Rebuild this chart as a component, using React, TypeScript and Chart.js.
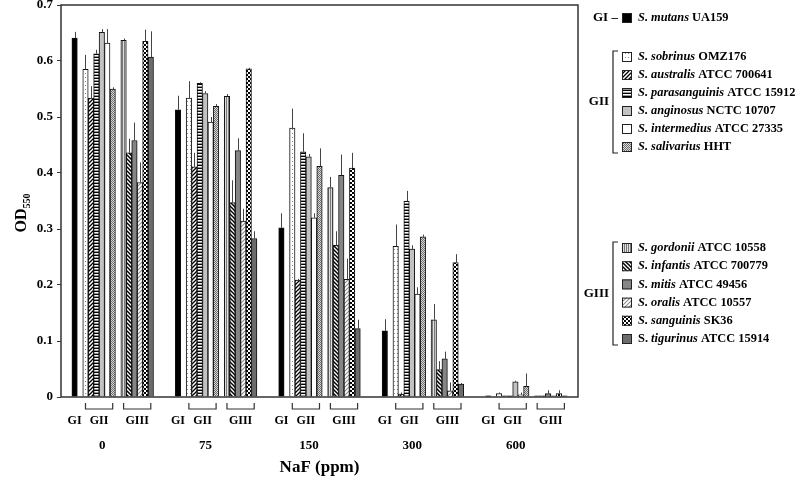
import React, { useEffect, useRef } from "react";
import { Chart, registerables } from "chart.js";

Chart.register(...registerables);

// ---------- data ----------
const concentrations = ["0", "75", "150", "300", "600"];
const groupNames = ["GI", "GII", "GIII"];
const yTickValues = [0, 0.1, 0.2, 0.3, 0.4, 0.5, 0.6, 0.7];

const speciesEpithets = [
  "mutans", "sobrinus", "australis", "parasanguinis", "anginosus", "intermedius", "salivarius",
  "gordonii", "infantis", "mitis", "oralis", "sanguinis", "tigurinus",
];
const speciesStrains = [
  "UA159", "OMZ176", "ATCC 700641", "ATCC 15912", "NCTC 10707", "ATCC 27335", "HHT",
  "ATCC 10558", "ATCC 700779", "ATCC 49456", "ATCC 10557", "SK36", "ATCC 15914",
];
const speciesGroup = [0, 1, 1, 1, 1, 1, 1, 2, 2, 2, 2, 2, 2];

// OD550 per NaF concentration (0, 75, 150, 300, 600 ppm)
const mutans = [0.641, 0.513, 0.302, 0.118, 0.002];
const sobrinus = [0.585, 0.534, 0.48, 0.269, 0.006];
const australis = [0.534, 0.411, 0.209, 0.005, 0.002];
const parasanguinis = [0.613, 0.56, 0.438, 0.35, 0.002];
const anginosus = [0.651, 0.542, 0.429, 0.264, 0.027];
const intermedius = [0.632, 0.491, 0.32, 0.184, 0.004];
const salivarius = [0.55, 0.519, 0.412, 0.286, 0.019];
const gordonii = [0.637, 0.537, 0.374, 0.138, 0.002];
const infantis = [0.436, 0.347, 0.271, 0.049, 0.002];
const mitis = [0.458, 0.44, 0.396, 0.068, 0.006];
const oralis = [0.383, 0.314, 0.21, 0.011, 0.002];
const sanguinis = [0.635, 0.586, 0.409, 0.24, 0.006];
const tigurinus = [0.607, 0.283, 0.122, 0.023, 0.002];

// standard deviations
const mutansErr = [0.011, 0.025, 0.026, 0.021, 0];
const sobrinusErr = [0.026, 0.03, 0.035, 0.039, 0.002];
const australisErr = [0.021, 0.025, 0.002, 0.003, 0];
const parasanguinisErr = [0.007, 0.002, 0.033, 0.018, 0];
const anginosusErr = [0.006, 0.004, 0.005, 0.007, 0.002];
const intermediusErr = [0.025, 0.009, 0.008, 0.012, 0.004];
const salivariusErr = [0.003, 0.004, 0.032, 0.004, 0.023];
const gordoniiErr = [0.003, 0.004, 0.019, 0.028, 0];
const infantisErr = [0.025, 0.04, 0.025, 0.015, 0];
const mitisErr = [0.032, 0.022, 0.037, 0.013, 0.006];
const oralisErr = [0.036, 0.022, 0.037, 0.015, 0];
const sanguinisErr = [0.021, 0.002, 0.027, 0.015, 0.006];
const tigurinusErr = [0.046, 0.013, 0.016, 0.002, 0];

const seriesValues = [mutans, sobrinus, australis, parasanguinis, anginosus, intermedius, salivarius,
  gordonii, infantis, mitis, oralis, sanguinis, tigurinus];
const seriesErrors = [mutansErr, sobrinusErr, australisErr, parasanguinisErr, anginosusErr, intermediusErr,
  salivariusErr, gordoniiErr, infantisErr, mitisErr, oralisErr, sanguinisErr, tigurinusErr];

// ---------- layout of slots ----------
const SLOTS_PER_GROUP = 19;
const slotOf = (si: number) => (si === 0 ? 2 : si <= 6 ? 3 + si : si + 4);
const TOTAL_SLOTS = SLOTS_PER_GROUP * concentrations.length;

const FONT = '"Liberation Serif", "Times New Roman", serif';
const LEGEND_SIZE = 12.4;

// ---------- patterns ----------
function tile(w: number, h: number, draw: (c: CanvasRenderingContext2D) => void): CanvasPattern {
  const cv = document.createElement("canvas");
  cv.width = w;
  cv.height = h;
  const c = cv.getContext("2d")!;
  draw(c);
  return c.createPattern(cv, "repeat")!;
}

function makeFills(): (string | CanvasPattern)[] {
  const diag = (color: string, lw: number, up: boolean) =>
    tile(4, 4, (c) => {
      c.fillStyle = "#fff";
      c.fillRect(0, 0, 4, 4);
      c.strokeStyle = color;
      c.lineWidth = lw;
      c.beginPath();
      if (up) {
        c.moveTo(-1, 5); c.lineTo(5, -1);
        c.moveTo(-1, 1); c.lineTo(1, -1);
        c.moveTo(3, 5); c.lineTo(5, 3);
      } else {
        c.moveTo(-1, -1); c.lineTo(5, 5);
        c.moveTo(3, -1); c.lineTo(5, 1);
        c.moveTo(-1, 3); c.lineTo(1, 5);
      }
      c.stroke();
    });
  return [
    "#000000",
    tile(3, 4, (c) => { c.fillStyle = "#fff"; c.fillRect(0, 0, 3, 4); c.fillStyle = "#8a8a8a"; c.fillRect(1, 1, 1, 1); }),
    diag("#000", 1.3, true),
    tile(2, 3, (c) => { c.fillStyle = "#000"; c.fillRect(0, 0, 2, 1); c.fillStyle = "#fff"; c.fillRect(0, 1, 2, 1); c.fillStyle = "#9a9a9a"; c.fillRect(0, 2, 2, 1); }),
    "#c2c2c2",
    "#ffffff",
    tile(2, 2, (c) => { c.fillStyle = "#d8d8d8"; c.fillRect(0, 0, 2, 2); c.fillStyle = "#6e6e6e"; c.fillRect(0, 0, 1, 1); c.fillRect(1, 1, 1, 1); }),
    tile(2, 2, (c) => { c.fillStyle = "#dedede"; c.fillRect(0, 0, 2, 2); c.fillStyle = "#7a7a7a"; c.fillRect(0, 0, 1, 2); }),
    diag("#000", 1.5, false),
    "#858585",
    diag("#8c8c8c", 1.1, true),
    tile(4, 4, (c) => { c.fillStyle = "#fff"; c.fillRect(0, 0, 4, 4); c.fillStyle = "#000"; c.fillRect(0, 0, 2, 2); c.fillRect(2, 2, 2, 2); }),
    "#6c6c6c",
  ];
}

// ---------- component ----------
export default function App() {
  const ref = useRef<HTMLCanvasElement | null>(null);

  useEffect(() => {
    if (!ref.current) return;
    const fills = makeFills();
    const labels = Array.from({ length: TOTAL_SLOTS }, () => "");

    const datasets = seriesValues.map((vals, si) => {
      const arr: (number | null)[] = new Array(TOTAL_SLOTS).fill(null);
      vals.forEach((v, g) => { arr[g * SLOTS_PER_GROUP + slotOf(si)] = v; });
      return {
        label: "S. " + speciesEpithets[si] + " " + speciesStrains[si],
        data: arr,
        backgroundColor: fills[si] as any,
        borderColor: "#111",
        borderWidth: 1,
        grouped: false,
        barPercentage: 1,
        categoryPercentage: 1,
      };
    });

    const decor = {
      id: "decor",
      beforeDraw(chart: any) {
        const c = chart.ctx;
        c.save();
        c.fillStyle = "#fff";
        c.fillRect(0, 0, chart.width, chart.height);
        c.restore();
      },
      afterDatasetsDraw(chart: any) {
        const c = chart.ctx;
        const xs = chart.scales.x;
        const ys = chart.scales.y;
        const area = chart.chartArea;
        c.save();
        // error bars
        c.strokeStyle = "#444";
        c.lineWidth = 1;
        seriesValues.forEach((vals, si) => {
          vals.forEach((v, g) => {
            const e = seriesErrors[si][g];
            if (!e) return;
            const x = Math.round(xs.getPixelForValue(g * SLOTS_PER_GROUP + slotOf(si))) + 0.5;
            c.beginPath();
            c.moveTo(x, ys.getPixelForValue(v));
            c.lineTo(x, ys.getPixelForValue(v + e));
            c.stroke();
          });
        });
        // frame
        c.strokeStyle = "#333";
        c.lineWidth = 1.5;
        c.strokeRect(area.left, area.top, area.right - area.left, area.bottom - area.top);
        c.restore();
      },
      afterDraw(chart: any) {
        const c = chart.ctx;
        const xs = chart.scales.x;
        const area = chart.chartArea;
        const px = (i: number) => xs.getPixelForValue(i);
        c.save();
        c.fillStyle = "#000";
        c.textBaseline = "middle";
        c.textAlign = "center";
        c.strokeStyle = "#333";
        c.lineWidth = 1.2;
        concentrations.forEach((conc, g) => {
          const base = g * SLOTS_PER_GROUP;
          const giX = px(base + slotOf(0));
          const giiA = px(base + slotOf(1));
          const giiB = px(base + slotOf(6));
          const giiiA = px(base + slotOf(7));
          const giiiB = px(base + slotOf(12));
          // brackets
          [[giiA, giiB], [giiiA, giiiB]].forEach(([a, b]) => {
            c.beginPath();
            c.moveTo(a, area.bottom + 6);
            c.lineTo(a, area.bottom + 12);
            c.lineTo(b, area.bottom + 12);
            c.lineTo(b, area.bottom + 6);
            c.stroke();
          });
          c.font = `bold 12px ${FONT}`;
          c.fillText(groupNames[0], giX, 421);
          c.fillText(groupNames[1], (giiA + giiB) / 2, 421);
          c.fillText(groupNames[2], (giiiA + giiiB) / 2, 421);
          c.font = `bold 13px ${FONT}`;
          const giiC = (giiA + giiB) / 2;
          const giiiC = (giiiA + giiiB) / 2;
          c.fillText(conc, giiC + (giiiC - giiC) * 0.08, 446);
        });
        c.font = `bold 17px ${FONT}`;
        c.fillText("NaF (ppm)", (area.left + area.right) / 2, 468);

        // y title OD550
        c.save();
        c.translate(22, 213);
        c.rotate(-Math.PI / 2);
        c.font = `bold 16px ${FONT}`;
        const wOD = c.measureText("OD").width;
        c.font = `bold 10px ${FONT}`;
        const wSub = c.measureText("550").width;
        const start = -(wOD + wSub) / 2;
        c.textAlign = "left";
        c.font = `bold 16px ${FONT}`;
        c.fillText("OD", start, 0);
        c.font = `bold 10px ${FONT}`;
        c.fillText("550", start + wOD, 5);
        c.restore();

        // legend
        const drawItem = (si: number, x: number, y: number) => {
          c.fillStyle = fills[si] as any;
          c.fillRect(x, y - 5, 10, 10);
          c.strokeStyle = "#222";
          c.lineWidth = 1;
          c.strokeRect(x + 0.5, y - 4.5, 9, 9);
          c.fillStyle = "#000";
          c.textAlign = "left";
          let tx = x + 16;
          if (si === 12) {
            c.font = `bold ${LEGEND_SIZE}px ${FONT}`;
            c.fillText("S. ", tx, y);
            tx += c.measureText("S. ").width;
            c.font = `italic bold ${LEGEND_SIZE}px ${FONT}`;
            c.fillText(speciesEpithets[si], tx, y);
            tx += c.measureText(speciesEpithets[si]).width;
          } else {
            c.font = `italic bold ${LEGEND_SIZE}px ${FONT}`;
            const t = "S. " + speciesEpithets[si];
            c.fillText(t, tx, y);
            tx += c.measureText(t).width;
          }
          c.font = `bold ${LEGEND_SIZE}px ${FONT}`;
          c.fillText(" " + speciesStrains[si], tx, y);
        };
        const boxX = 622;
        // GI
        c.font = `bold 13px ${FONT}`;
        c.textAlign = "left";
        c.fillText(groupNames[0] + " \u2013", 593, 18);
        drawItem(0, boxX, 18);
        // GII and GIII
        const groupsLayout = [
          { g: 1, y0: 57, dy: 18 },
          { g: 2, y0: 248, dy: 18.2 },
        ];
        groupsLayout.forEach(({ g, y0, dy }) => {
          const members = speciesGroup.map((gg, i) => (gg === g ? i : -1)).filter((i) => i >= 0);
          members.forEach((si, k) => drawItem(si, boxX, y0 + k * dy));
          const top = y0 - 6;
          const bot = y0 + (members.length - 1) * dy + 6;
          c.strokeStyle = "#222";
          c.lineWidth = 1.2;
          c.beginPath();
          c.moveTo(618, top);
          c.lineTo(613, top);
          c.lineTo(613, bot);
          c.lineTo(618, bot);
          c.stroke();
          c.fillStyle = "#000";
          c.font = `bold 13px ${FONT}`;
          c.textAlign = "right";
          c.fillText(groupNames[g], 609, (top + bot) / 2);
        });
        c.restore();
      },
    };

    const chart = new Chart(ref.current, {
      type: "bar",
      data: { labels, datasets: datasets as any },
      options: {
        animation: false,
        responsive: false,
        events: [],
        layout: { padding: { left: 0, right: 222, top: 5, bottom: 0 } },
        plugins: { legend: { display: false }, tooltip: { enabled: false } },
        scales: {
          x: {
            type: "category",
            grid: { display: false },
            border: { display: false },
            ticks: { display: false },
            afterFit: (s: any) => { s.height = 81; s.paddingLeft = 0; s.paddingRight = 0; },
          },
          y: {
            min: 0,
            max: 0.7,
            afterBuildTicks: (s: any) => { s.ticks = yTickValues.map((v) => ({ value: v })); },
            ticks: {
              color: "#000",
              padding: 4,
              font: { family: FONT, size: 13, weight: "bold" },
              callback: (v: any) => (Number(v) === 0 ? "0" : Number(v).toFixed(1)),
            },
            grid: { display: true, drawOnChartArea: false, drawTicks: true, tickLength: 4, color: "#333" },
            border: { display: false },
            afterFit: (s: any) => { s.width = 61; s.paddingTop = 0; s.paddingBottom = 0; },
          },
        },
      } as any,
      plugins: [decor],
    });
    return () => chart.destroy();
  }, []);

  return (
    <div style={{ position: "absolute", left: 0, top: 0, width: 800, height: 478, background: "#fff" }}>
      <canvas ref={ref} width={800} height={478} style={{ display: "block" }} />
    </div>
  );
}
